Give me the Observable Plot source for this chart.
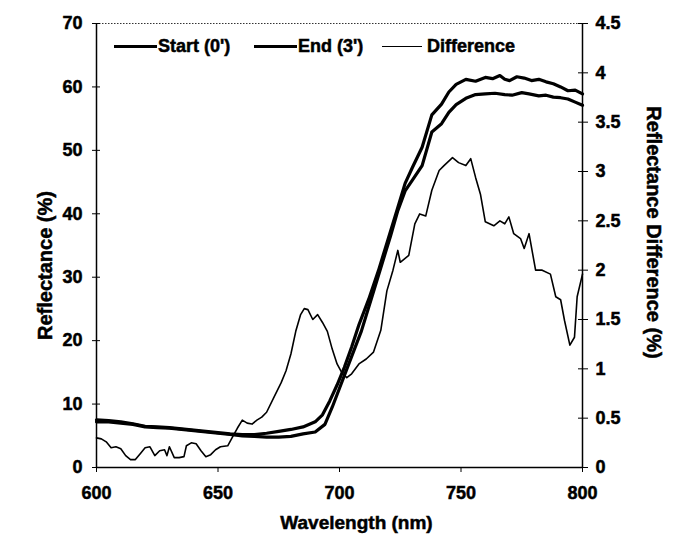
<!DOCTYPE html>
<html>
<head>
<meta charset="utf-8">
<script src="https://cdn.jsdelivr.net/npm/d3@7"></script>
<script src="https://cdn.jsdelivr.net/npm/@observablehq/plot@0.6"></script>
<style>
  html, body { margin: 0; padding: 0; background: white; }
  #wrap { position: relative; width: 674px; height: 550px; font-family: "Liberation Sans", Arial, sans-serif; }
  .lg { position: absolute; font-weight: bold; font-size: 18px; color: #000; line-height: 20px; top: 36px; white-space: nowrap; -webkit-text-stroke: 0.5px #000; }
  .ln { position: absolute; background: #000; }
  #chart svg text { stroke: #000; stroke-width: 0.5px; }
</style>
</head>
<body>
<div id="wrap">
  <div id="chart"></div>
  <div class="ln" style="left:114px; top:45px; width:43px; height:3px;"></div>
  <div class="lg" style="left:158px;">Start (0')</div>
  <div class="ln" style="left:254px; top:45px; width:43px; height:3px;"></div>
  <div class="lg" style="left:298px;">End (3')</div>
  <div class="ln" style="left:382px; top:45.5px; width:40px; height:1.6px;"></div>
  <div class="lg" style="left:427px;">Difference</div>
</div>
<script>
// Wavelength ticks and axis ticks
const xTicks = [600, 650, 700, 750, 800];
const leftTicks = [0, 10, 20, 30, 40, 50, 60, 70];
const rightTicks = [0, 0.5, 1, 1.5, 2, 2.5, 3, 3.5, 4, 4.5];

// Start (0') reflectance (%)
const startNm = [600,605,610,615,620,625,630,635,640,645,650,655,660,665,670,675,680,685,690,693,696,699,702,705,708,712,716,720,724,727,730,734,738,742,745,748,752,756,760,763,766,768,770,773,776,779,782,785,788,791,794,797,800];
const startR  = [7.5,7.4,7.2,6.9,6.5,6.4,6.3,6.1,5.9,5.7,5.5,5.3,5.2,5.2,5.4,5.7,6.0,6.4,7.2,8.3,10.5,13.0,15.8,19.0,22.5,26.5,31.0,36.0,41.0,44.8,47.3,50.5,55.6,57.3,59.2,60.4,61.2,60.9,61.5,61.3,61.8,61.2,61.0,61.6,61.4,61.0,61.2,60.8,60.5,60.0,59.4,59.5,58.9];

// End (3') reflectance (%)
const endNm = [600,605,610,615,620,625,630,635,640,645,650,655,660,665,670,675,680,685,690,694,697,700,703,706,709,713,717,721,724,727,730,734,738,742,745,748,752,756,760,764,768,771,775,778,782,785,788,791,794,797,800];
const endR  = [7.2,7.2,7.0,6.8,6.4,6.3,6.2,6.0,5.8,5.6,5.4,5.2,5.0,4.9,4.8,4.8,4.9,5.3,5.6,6.8,9.5,12.5,15.5,18.5,21.5,26.5,31.5,36.5,40.5,43.6,45.3,47.6,52.9,54.2,56.0,57.2,58.2,58.8,58.9,59.0,58.8,58.7,59.1,58.9,58.6,58.7,58.4,58.3,58.1,57.6,57.1];

// Reflectance difference (%)
const diffNm = [600,602,604,606,608,610,612,614,616,618,620,622,624,626,628,629,630,632,634,636,637,639,641,643,645,647,649,651,654,656,658,660,662,664,666,668,670,673,676,678,680,682,684,685.5,687,689,691,693,695,697,699,701,703,705,708,711,714,717,719.5,722,724,725,728.5,731,733,735.5,738,741,743,746.5,749,752,754,756,758,760,763.5,766,768,769.7,771.7,774.5,776,778,780.7,783.4,786.8,789,791,792.6,794.8,796.7,797.8,800];
const diffV  = [0.30,0.29,0.26,0.20,0.21,0.19,0.12,0.08,0.08,0.14,0.20,0.21,0.12,0.17,0.18,0.12,0.21,0.10,0.10,0.11,0.22,0.25,0.24,0.17,0.11,0.13,0.18,0.21,0.22,0.31,0.40,0.48,0.45,0.44,0.48,0.51,0.56,0.71,0.86,0.98,1.15,1.38,1.55,1.61,1.60,1.50,1.55,1.47,1.38,1.20,1.05,0.96,0.91,0.95,1.05,1.10,1.17,1.39,1.79,2.00,2.20,2.08,2.15,2.47,2.57,2.55,2.81,3.01,3.06,3.14,3.09,3.06,3.13,2.94,2.77,2.49,2.45,2.50,2.47,2.54,2.37,2.32,2.22,2.37,2.00,2.00,1.96,1.73,1.70,1.49,1.24,1.32,1.73,1.96];

const yMax = 70, rMax = 4.5, k = yMax / rMax;
const startData = startNm.map((x, i) => ({x, y: startR[i]}));
const endData = endNm.map((x, i) => ({x, y: endR[i]}));
const diffData = diffNm.map((x, i) => ({x, y: diffV[i] * k}));

const chart = Plot.plot({
  width: 674,
  height: 550,
  marginLeft: 96,
  marginRight: 92,
  marginTop: 23,
  marginBottom: 83,
  style: {fontFamily: "'Liberation Sans', Arial, sans-serif", fontSize: "18px", fontWeight: "bold", background: "white", color: "black"},
  x: {domain: [600, 800]},
  y: {domain: [0, yMax]},
  marks: [
    Plot.ruleY([yMax], {stroke: "#333", strokeWidth: 1, strokeDasharray: "1.5,1.5"}),
    Plot.axisX({ticks: xTicks, tickSize: 5, tickPadding: 14, label: null, tickFormat: d => String(d)}),
    Plot.axisY({anchor: "left", ticks: leftTicks, tickSize: 4, tickPadding: 10, label: null, tickFormat: d => String(d)}),
    Plot.axisY({anchor: "left", ticks: leftTicks, tickSize: -4, tickFormat: () => "", label: null}),
    Plot.axisY({anchor: "right", ticks: rightTicks.map(d => d * k), tickSize: 5, tickPadding: 8, label: null, tickFormat: d => String(Math.round(d / k * 10) / 10)}),
    Plot.axisY({anchor: "right", ticks: rightTicks.map(d => d * k), tickSize: -5, tickFormat: () => "", label: null}),
    Plot.ruleX([600], {strokeWidth: 1.5}),
    Plot.ruleX([800], {strokeWidth: 1.5}),
    Plot.ruleY([0], {strokeWidth: 1.5}),
    Plot.line(diffData, {x: "x", y: "y", stroke: "black", strokeWidth: 1.6}),
    Plot.line(endData, {x: "x", y: "y", stroke: "black", strokeWidth: 3.2}),
    Plot.line(startData, {x: "x", y: "y", stroke: "black", strokeWidth: 3.2}),
    Plot.text(["Wavelength (nm)"], {frameAnchor: "bottom", textAnchor: "middle", dx: 17, dy: 61, fontSize: 19, fontWeight: "bold", fill: "black"}),
    Plot.text(["Reflectance (%)"], {frameAnchor: "left", textAnchor: "middle", rotate: -90, dx: -51, dy: 20, fontSize: 20, fontWeight: "bold", fill: "black", style: "letter-spacing:0.5px"}),
    Plot.text(["Reflectance Difference (%)"], {frameAnchor: "right", textAnchor: "middle", rotate: 90, dx: 71, dy: -13, fontSize: 20, fontWeight: "bold", fill: "black"})
  ]
});
document.getElementById("chart").appendChild(chart);
</script>
</body>
</html>
